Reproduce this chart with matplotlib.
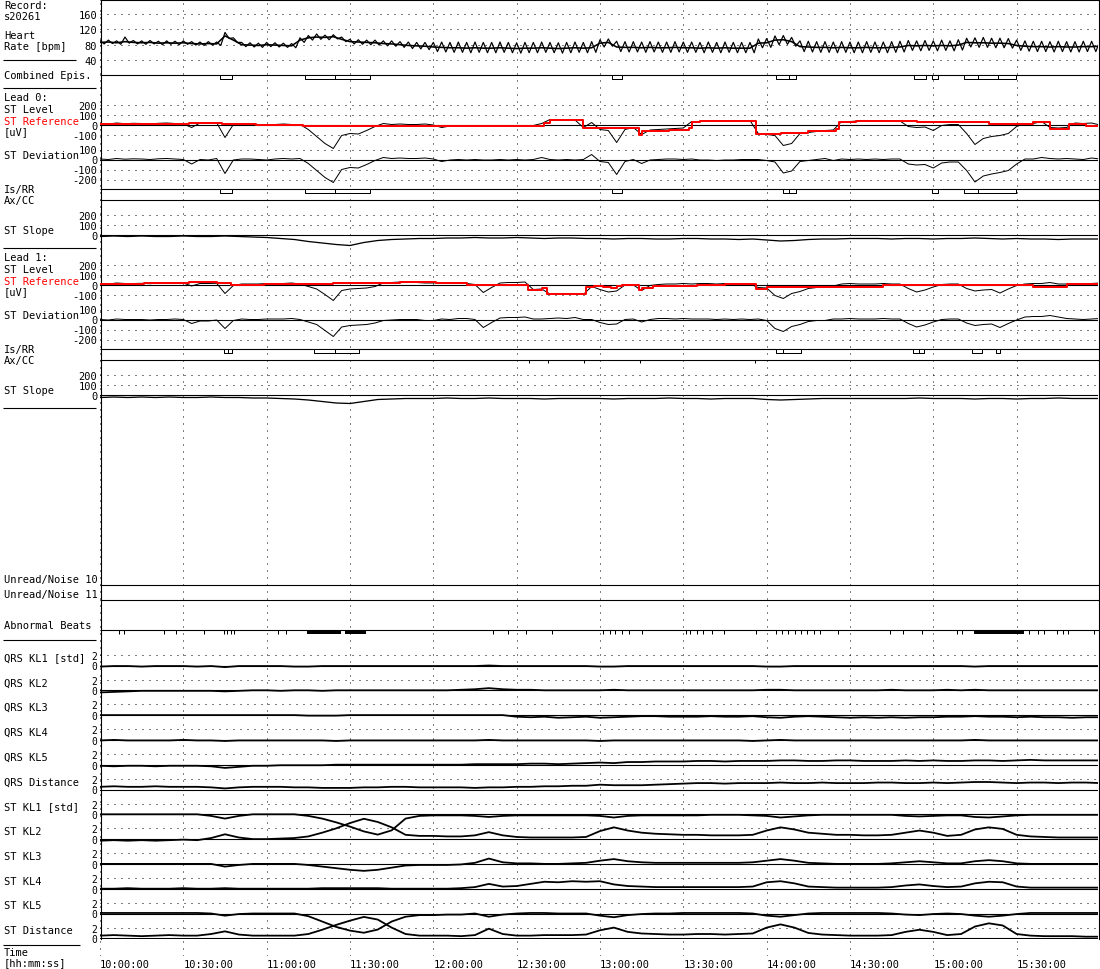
import numpy as np
import matplotlib
matplotlib.use("Agg")
import matplotlib.pyplot as plt

# ---- data (time in minutes after 10:00:00) ----
t3 = np.arange(0, 361, 3)      # 3-minute samples
t5 = np.arange(0, 361, 5)      # 5-minute samples

hr = [86, 87, 85, 88, 86, 85, 86, 84, 85, 84,
      85, 83, 82, 83, 82, 103, 92, 80, 79, 78,
      80, 79, 78, 77, 92, 98, 100, 99, 101, 94,
      88, 87, 86, 85, 83, 82, 80, 78, 77, 76,
      74, 73, 72, 72, 71, 72, 71, 71, 72, 71,
      70, 71, 71, 72, 71, 70, 71, 72, 71, 72,
      84, 86, 74, 73, 73, 72, 73, 72, 72, 73,
      72, 72, 71, 72, 71, 72, 71, 71, 71, 84,
      85, 92, 93, 88, 75, 74, 73, 73, 72, 73,
      72, 72, 73, 72, 72, 73, 74, 78, 77, 78,
      77, 78, 77, 79, 86, 85, 85, 84, 84, 83,
      78, 76, 75, 75, 74, 75, 74, 74, 75, 75,
      76]
hr_hi = [91, 92, 90, 100, 91, 90, 91, 89, 90, 89,
         90, 88, 87, 88, 87, 112, 98, 86, 85, 84,
         86, 85, 84, 83, 98, 104, 108, 105, 106, 100,
         94, 93, 92, 92, 90, 90, 88, 87, 86, 86,
         86, 87, 86, 87, 86, 87, 86, 86, 87, 86,
         85, 86, 86, 87, 86, 85, 86, 87, 86, 88,
         93, 95, 89, 88, 88, 87, 88, 87, 87, 88,
         87, 87, 86, 87, 86, 87, 86, 86, 86, 95,
         96, 103, 104, 99, 90, 89, 88, 88, 87, 88,
         87, 87, 88, 87, 87, 88, 89, 91, 90, 91,
         90, 92, 90, 93, 97, 98, 99, 97, 97, 96,
         92, 90, 89, 89, 88, 89, 88, 88, 89, 89,
         90]
hr_lo = [82, 83, 81, 84, 82, 81, 82, 80, 81, 80,
         81, 79, 78, 79, 78, 96, 86, 75, 74, 73,
         75, 74, 73, 72, 86, 92, 94, 93, 95, 88,
         82, 81, 80, 79, 77, 76, 73, 70, 69, 67,
         62, 61, 60, 60, 59, 60, 59, 59, 60, 59,
         58, 59, 59, 60, 59, 58, 59, 60, 59, 60,
         74, 76, 62, 61, 61, 60, 61, 60, 60, 61,
         60, 60, 59, 60, 59, 60, 59, 59, 59, 72,
         73, 80, 81, 76, 62, 61, 60, 60, 59, 60,
         59, 59, 60, 59, 59, 60, 61, 65, 64, 65,
         64, 65, 64, 66, 74, 73, 73, 72, 72, 71,
         65, 63, 62, 62, 61, 62, 61, 61, 62, 62,
         63]

# episodes (start, end) in minutes
combined_epis = [(43.2, 47.5), (73.8, 84.6), (84.6, 97.2), (184.3, 187.9),
                 (243.4, 248.0), (248.0, 250.6), (293.0, 297.3), (299.5, 301.7),
                 (311.0, 316.1), (316.1, 323.3), (323.3, 329.8)]
lead0_epis = [(43.2, 47.5), (73.8, 84.6), (84.6, 97.2), (184.3, 187.9),
              (245.9, 248.0), (248.0, 250.6), (299.5, 301.7), (311.0, 316.1),
              (316.1, 329.8)]
lead1_epis = [(44.6, 46.1), (46.1, 47.5), (77.0, 84.6), (84.6, 93.2),
              (243.4, 245.9), (245.9, 252.4), (292.7, 294.8), (294.8, 296.6),
              (313.9, 317.5), (322.6, 324.0)]
lead1_axis_shifts = [154.4, 161.3, 174.2, 194.4, 235.8]

# Lead 0 [uV]
st0_level = [10, 5, 15, 8, 12, 10, 5, 12, 15, 10,
             5, -30, 15, 12, 18, -130, 0, 5, 0, -5,
             -10, 0, 5, 0, 0, -50, -120, -190, -240, -110,
             -90, -95, -60, -20, 10, 0, 5, 0, 0, 5,
             -5, -30, -15, -10, -15, -10, -15, -15, -10, -15,
             -10, -15, -10, 10, 50, 45, 50, 45, -30, 20,
             -50, -60, -180, -50, -30, -100, -55, -50, -45, -40,
             -35, 30, 30, 35, 30, 35, 35, 40, 40, -90,
             -100, -110, -210, -190, -90, -80, -70, -60, -55, 30,
             30, 35, 30, 35, 30, 35, 35, -20, -30, -25,
             -60, -10, 0, 0, -90, -200, -140, -120, -110, -90,
             -20, 10, 10, 30, -30, -35, -30, 15, 10, 15,
             -5]
st0_ref_t = [0, 32, 44, 56, 73, 159, 160, 162, 174, 194, 195, 205, 212, 213,
             216, 236, 245, 255, 265, 266, 272, 294, 320, 336, 342, 349, 355, 360]
st0_ref_v = [5, 15, 5, -5, -10, -10, 20, 50, -30, -100, -60, -50, -35, 25,
             40, -90, -80, -65, -45, 25, 33, 25, 5, 30, -40, 10, -10, -10]
st0_dev = [5, 0, 10, 3, 7, 5, 0, 7, 10, 5,
           0, -45, 0, -5, 10, -140, -5, 5, 5, 0,
           -5, 5, 10, 5, 10, -40, -110, -180, -230, -100,
           -80, -85, -50, -10, 20, 10, 15, 10, 10, 15,
           5, -20, -5, 0, -5, 0, -5, -5, 0, -5,
           0, -5, 0, 20, 0, -5, 0, -5, 0, 50,
           -20, -30, -150, -20, 0, -40, -5, 0, 5, 5,
           0, 5, -5, -5, -10, -5, -5, 0, 0, 0,
           -10, -25, -135, -115, -20, -10, 0, 10, -10, 5,
           0, 5, 0, 5, 0, 5, 5, -45, -55, -50,
           -85, -35, -25, -25, -110, -225, -165, -145, -130, -110,
           -45, 5, 5, 20, 10, 5, 10, 5, 0, 15,
           5]
st0_slope = [-20, -15, -20, -15, -20, -20, -15, -20, -20, -15, -20, -25,
             -30, -40, -50, -70, -85, -100, -110, -80, -60, -50, -45, -40,
             -40, -35, -35, -30, -35, -35, -30, -35, -40, -35, -35, -40,
             -40, -45, -40, -40, -45, -45, -40, -40, -45, -45, -50, -45,
             -55, -65, -60, -50, -45, -45, -40, -40, -40, -45, -40, -40,
             -45, -40, -40, -35, -40, -45, -40, -45, -45, -50, -45, -45,
             -45]

# Lead 1 [uV]
st1_level = [10, 5, 15, 10, 10, 12, 8, 15, 15, 20,
             15, -15, 10, 10, 12, -90, -10, 5, 5, 5,
             10, 10, 10, 15, 5, -20, -45, -100, -160, -60,
             -45, -40, -35, -20, 15, 20, 25, 25, 20, 15,
             15, 20, 15, 15, 10, 0, -80, -30, 15, 20,
             20, 25, -50, -45, -95, -90, -95, -90, -100, -20,
             -50, -75, -65, -5, -5, -60, -10, 0, 5, 5,
             10, 5, 10, 10, 5, 10, 5, 10, 5, -30,
             -35, -110, -140, -90, -70, -40, -30, -30, -15, 5,
             10, 5, 5, 5, 10, 5, 5, -40, -75, -55,
             -25, 0, 5, 5, -40, -65, -55, -50, -85, -45,
             -10, 5, 10, 10, 20, 5, 5, 10, 5, 10,
             15]
st1_ref_t = [0, 16, 32, 42, 47, 59, 84, 108, 121, 132, 154, 159, 161, 175, 178,
             181, 184, 186, 188, 194, 195, 199, 215, 225, 236, 240, 282, 312,
             336, 348, 360]
st1_ref_v = [10, 15, 25, 15, 0, 5, 15, 25, 15, 0, -55, -35, -95, -25, -10,
             -20, -30, -15, -5, -50, -30, -10, 0, 5, -40, -20, 0, -5,
             -20, 5, 5]
st1_dev = [0, -5, 5, 0, 0, 0, -5, 0, 0, 5,
           0, -40, -15, -15, -5, -90, -10, 5, 0, 0,
           5, 5, 5, 10, 0, -25, -50, -110, -170, -75,
           -60, -55, -50, -35, -10, -5, 0, 0, 0, -10,
           -10, 5, 0, 10, 10, 0, -80, -30, 15, 20,
           20, 25, 5, 5, 10, 15, 10, 20, 0, 0,
           -30, -50, -45, 0, 5, -25, 0, 10, 10, 5,
           10, 5, 5, 5, 0, 5, 0, 5, 0, 5,
           -10, -90, -120, -70, -50, -20, -10, -10, 5, 5,
           10, 5, 5, 5, 10, 5, 5, -40, -75, -55,
           -25, 0, 5, 5, -35, -60, -50, -45, -80, -40,
           -5, 25, 30, 30, 40, 25, 10, 5, 0, 5,
           10]
st1_slope = [-30, -25, -30, -25, -30, -25, -30, -30, -25, -30, -30, -35,
             -35, -40, -45, -55, -70, -85, -90, -70, -50, -45, -40, -40,
             -40, -35, -40, -40, -35, -40, -40, -40, -45, -40, -40, -40,
             -40, -45, -40, -40, -40, -35, -40, -40, -45, -40, -40, -40,
             -50, -55, -50, -45, -40, -40, -40, -40, -40, -40, -40, -35,
             -40, -40, -40, -45, -40, -40, -45, -40, -40, -35, -40, -40,
             -40]

# abnormal beats: single beats and dense runs (minutes)
abn_beats = [6.9, 8.7, 22.9, 27.5, 37.4, 44.7, 45.9, 47.0, 48.2, 64.2, 67.0,
             141.5, 146.8, 153.2, 162.9, 181.2, 183.5, 185.5, 187.8, 190.3,
             195.0, 211.1, 212.5, 214.8, 217.1, 220.2, 224.8, 236.3, 243.2,
             245.5, 247.8, 250.1, 252.4, 254.7, 256.9, 259.2, 265.6, 284.5,
             289.1, 296.0, 308.6, 310.5, 334.5, 337.6, 340.0, 344.4, 346.6,
             348.5, 357.9]
abn_runs = [(74.6, 86.7), (88.3, 95.9), (314.6, 332.6)]

# KL coefficients [std], 5-minute samples
qrs_kl1 = [-0.2, -0.1, -0.1, -0.2, -0.1, -0.1, -0.1, -0.2, -0.1, -0.3, -0.1, -0.1,
           -0.1, -0.1, -0.2, -0.2, -0.1, -0.1, -0.1, -0.1, -0.1, -0.1, -0.1, -0.1,
           -0.1, -0.1, -0.1, -0.1, 0.0, -0.1, -0.1, -0.1, -0.1, -0.1, -0.1, -0.1,
           -0.2, -0.2, -0.1, -0.1, -0.1, -0.1, -0.1, -0.1, -0.1, -0.1, -0.1, -0.1,
           -0.2, -0.2, -0.1, -0.1, -0.1, -0.1, -0.1, -0.1, -0.1, -0.1, -0.1, -0.1,
           -0.1, -0.1, -0.1, -0.2, -0.1, -0.1, -0.1, -0.1, -0.1, -0.1, -0.1, -0.1,
           -0.1]
qrs_kl2 = [-0.4, -0.3, -0.2, -0.1, -0.1, -0.1, -0.1, -0.1, -0.1, -0.2, -0.1, 0.0,
           0.0, -0.1, 0.0, 0.0, -0.1, 0.0, 0.0, 0.0, 0.0, 0.0, 0.0, 0.0,
           0.0, 0.0, 0.1, 0.2, 0.4, 0.2, 0.1, 0.1, 0.0, 0.0, 0.0, 0.0,
           0.0, 0.1, 0.0, 0.0, 0.0, 0.0, 0.0, 0.0, 0.0, 0.0, 0.0, 0.0,
           0.1, 0.1, 0.0, 0.0, 0.0, 0.0, 0.0, 0.0, 0.0, 0.1, 0.0, 0.0,
           0.0, 0.1, 0.0, 0.1, 0.0, 0.0, 0.0, 0.0, 0.0, 0.0, 0.0, 0.0,
           0.0]
qrs_kl3 = [0.0, 0.0, 0.0, 0.0, 0.0, 0.0, 0.0, 0.0, 0.0, 0.0, 0.0, 0.0,
           0.0, 0.0, 0.0, -0.1, -0.1, -0.1, 0.0, 0.0, 0.0, 0.0, 0.0, 0.0,
           0.0, 0.0, 0.0, 0.0, 0.0, 0.0, -0.3, -0.4, -0.3, -0.5, -0.4, -0.3,
           -0.5, -0.4, -0.3, -0.2, -0.2, -0.3, -0.3, -0.3, -0.2, -0.3, -0.3, -0.2,
           -0.4, -0.5, -0.3, -0.2, -0.3, -0.4, -0.5, -0.4, -0.5, -0.4, -0.5, -0.4,
           -0.4, -0.3, -0.3, -0.2, -0.3, -0.3, -0.4, -0.3, -0.4, -0.4, -0.5, -0.4,
           -0.4]
qrs_kl4 = [-0.1, 0.0, -0.1, -0.1, -0.1, -0.1, 0.0, -0.1, -0.1, -0.2, -0.1, -0.1,
           -0.1, -0.1, -0.1, -0.1, -0.1, -0.2, -0.1, -0.1, -0.1, -0.1, -0.1, -0.1,
           -0.1, -0.1, -0.1, -0.1, 0.0, -0.1, -0.1, -0.1, -0.1, -0.1, -0.1, -0.1,
           -0.2, -0.1, -0.1, -0.1, -0.1, -0.1, -0.1, -0.1, -0.1, -0.1, -0.1, -0.2,
           -0.1, 0.0, -0.1, -0.1, -0.1, -0.1, -0.1, -0.1, -0.1, -0.1, -0.1, -0.1,
           -0.1, -0.1, -0.1, 0.0, -0.1, -0.1, -0.1, -0.1, -0.1, -0.1, -0.1, -0.1,
           -0.1]
qrs_kl5 = [-0.2, -0.3, -0.2, -0.2, -0.3, -0.2, -0.2, -0.2, -0.3, -0.6, -0.4, -0.2,
           -0.2, -0.1, -0.1, -0.1, -0.1, 0.0, 0.0, 0.0, 0.0, 0.0, 0.0, 0.0,
           0.0, 0.0, 0.0, 0.1, 0.1, 0.1, 0.1, 0.2, 0.2, 0.1, 0.2, 0.3,
           0.4, 0.3, 0.5, 0.5, 0.6, 0.6, 0.6, 0.7, 0.7, 0.6, 0.7, 0.7,
           0.7, 0.8, 0.8, 0.7, 0.7, 0.8, 0.8, 0.7, 0.7, 0.7, 0.8, 0.7,
           0.8, 0.7, 0.7, 0.8, 0.8, 0.7, 0.8, 0.9, 0.8, 0.8, 0.8, 0.8,
           0.8]
qrs_dist = [0.5, 0.6, 0.5, 0.5, 0.6, 0.5, 0.5, 0.5, 0.4, 0.2, 0.4, 0.5,
            0.5, 0.5, 0.4, 0.4, 0.3, 0.3, 0.3, 0.4, 0.4, 0.5, 0.5, 0.4,
            0.4, 0.4, 0.4, 0.3, 0.4, 0.4, 0.5, 0.5, 0.6, 0.6, 0.7, 0.7,
            0.9, 0.8, 0.8, 0.8, 0.9, 1.0, 1.1, 1.2, 1.2, 1.1, 1.2, 1.2,
            1.2, 1.3, 1.2, 1.2, 1.3, 1.2, 1.2, 1.2, 1.3, 1.3, 1.2, 1.2,
            1.3, 1.2, 1.3, 1.4, 1.4, 1.3, 1.2, 1.3, 1.3, 1.2, 1.3, 1.3,
            1.2]
st_kl1 = [0.0, 0.0, 0.0, 0.0, 0.0, 0.0, 0.0, 0.0, -0.3, -0.8, -0.3, 0.0,
          0.0, 0.0, 0.0, -0.3, -0.8, -1.5, -2.3, -3.2, -3.8, -3.0, -0.8, -0.3,
          -0.2, -0.2, -0.2, -0.3, -0.5, -0.3, -0.2, -0.2, -0.2, -0.2, -0.2, -0.2,
          -0.3, -0.6, -0.3, -0.2, -0.2, -0.2, -0.2, -0.2, -0.1, -0.1, -0.1, -0.2,
          -0.3, -0.6, -0.4, -0.2, -0.1, -0.1, -0.1, -0.1, -0.1, -0.1, -0.3, -0.4,
          -0.3, -0.2, -0.2, -0.5, -0.6, -0.4, -0.2, -0.1, -0.1, -0.1, -0.1, -0.1,
          -0.1]
st_kl2 = [-0.3, -0.2, -0.3, -0.2, -0.3, -0.2, -0.1, -0.2, 0.2, 0.9, 0.3, 0.0,
          0.0, 0.1, 0.2, 0.5, 1.2, 2.0, 3.0, 3.8, 3.2, 2.2, 0.8, 0.6,
          0.6, 0.5, 0.5, 0.7, 1.3, 0.7, 0.4, 0.3, 0.3, 0.3, 0.3, 0.4,
          1.5, 2.2, 1.6, 1.2, 1.0, 0.9, 0.8, 0.8, 0.7, 0.7, 0.7, 0.8,
          1.6, 2.2, 1.8, 1.2, 1.0, 0.8, 0.8, 0.7, 0.7, 0.8, 1.2, 1.6,
          1.2, 0.6, 0.8, 1.8, 2.2, 1.9, 0.8, 0.5, 0.4, 0.3, 0.3, 0.3,
          0.3]
st_kl3 = [0.0, 0.0, 0.0, 0.0, 0.0, 0.0, 0.0, 0.0, 0.0, -0.5, -0.2, 0.0,
          0.0, 0.0, 0.0, -0.2, -0.5, -0.8, -1.1, -1.3, -1.1, -0.7, -0.3, -0.2,
          -0.2, -0.2, -0.1, 0.2, 1.0, 0.3, 0.1, 0.1, 0.0, 0.0, 0.1, 0.2,
          0.6, 0.9, 0.5, 0.3, 0.2, 0.2, 0.2, 0.2, 0.2, 0.2, 0.2, 0.3,
          0.6, 0.9, 0.6, 0.2, 0.1, 0.0, 0.0, 0.0, 0.0, 0.1, 0.3, 0.5,
          0.3, 0.1, 0.1, 0.5, 0.7, 0.5, 0.1, 0.0, 0.0, 0.0, 0.0, 0.0,
          0.0]
st_kl4 = [0.0, 0.0, 0.1, 0.0, 0.0, 0.0, 0.1, 0.0, 0.0, 0.1, 0.0, 0.0,
          0.0, 0.0, 0.0, 0.0, 0.1, 0.1, 0.1, 0.1, 0.1, 0.0, 0.0, 0.0,
          0.0, 0.0, 0.1, 0.3, 0.9, 0.4, 0.5, 0.9, 1.3, 1.2, 1.4, 1.3,
          1.4, 0.8, 0.5, 0.4, 0.3, 0.3, 0.3, 0.3, 0.3, 0.3, 0.3, 0.4,
          1.2, 1.4, 1.0, 0.4, 0.3, 0.2, 0.2, 0.2, 0.2, 0.3, 0.6, 0.8,
          0.5, 0.3, 0.4, 1.0, 1.3, 1.2, 0.4, 0.2, 0.2, 0.2, 0.2, 0.2,
          0.2]
st_kl5 = [0.1, 0.1, 0.1, 0.1, 0.1, 0.1, 0.1, 0.1, 0.0, -0.4, -0.1, 0.0,
          0.0, 0.0, 0.0, -0.5, -1.5, -2.5, -3.2, -3.6, -3.0, -1.5, -0.6, -0.3,
          -0.3, -0.2, -0.2, 0.0, -0.6, -0.2, 0.0, 0.1, 0.1, 0.0, 0.0, 0.0,
          -0.4, -0.7, -0.3, -0.1, 0.0, 0.0, 0.1, 0.1, 0.1, 0.1, 0.1, 0.0,
          -0.4, -0.6, -0.3, 0.0, 0.1, 0.1, 0.1, 0.1, 0.1, 0.0, -0.2, -0.3,
          -0.1, 0.0, -0.1, -0.4, -0.6, -0.4, -0.1, 0.1, 0.1, 0.1, 0.1, 0.1,
          0.1]
st_dist = [0.5, 0.6, 0.5, 0.4, 0.5, 0.6, 0.5, 0.5, 0.8, 1.3, 0.7, 0.5,
           0.5, 0.5, 0.5, 0.8, 1.6, 2.5, 3.3, 4.0, 3.5, 2.0, 0.8, 0.5,
           0.5, 0.5, 0.4, 0.6, 1.8, 0.8, 0.5, 0.5, 0.6, 0.6, 0.6, 0.7,
           1.5, 2.0, 1.2, 0.9, 0.8, 0.7, 0.7, 0.8, 0.8, 0.7, 0.8, 0.9,
           2.0, 2.6, 2.0, 1.0, 0.7, 0.6, 0.5, 0.5, 0.5, 0.6, 1.2, 1.6,
           1.2, 0.6, 0.8, 2.2, 2.8, 2.4, 0.8, 0.5, 0.4, 0.4, 0.4, 0.3,
           0.3]

kl_names = ["QRS KL1 [std]", "QRS KL2", "QRS KL3", "QRS KL4", "QRS KL5",
            "QRS Distance", "ST KL1 [std]", "ST KL2", "ST KL3", "ST KL4",
            "ST KL5", "ST Distance"]
kl_series = [qrs_kl1, qrs_kl2, qrs_kl3, qrs_kl4, qrs_kl5, qrs_dist,
             st_kl1, st_kl2, st_kl3, st_kl4, st_kl5, st_dist]

time_ticks = list(range(0, 360, 30))
time_labels = ["%d:%02d:00" % (10 + m // 60, m % 60) for m in time_ticks]

# ---- layout (pixels of a 1100 x 970 image) ----
W, H = 1100, 970
X0, X1 = 100, 1098
Y_END = 940
T_END = (X1 - X0) * 30 / 83.33
DOT = (0, (1, 6))
PX = 0.72  # one pixel in points
FS = 7.5

plt.rcParams['font.family'] = ['DejaVu Sans Mono']
plt.rcParams['font.size'] = FS
plt.rcParams['axes.unicode_minus'] = False

fig = plt.figure(figsize=(11, 9.7), dpi=100)

# overlay in pixel coordinates for labels and frame lines
over = fig.add_axes([0, 0, 1, 1])
over.set_xlim(0, W)
over.set_ylim(H, 0)
over.axis('off')


def track(ref_val, ref_px, ppu, ticks=(), zero=True, fs=FS):
    """Transparent axes over the plot area: ref_val sits at pixel row ref_px,
    ppu pixels per data unit."""
    ax = fig.add_axes([X0 / W, 1 - Y_END / H, (X1 - X0) / W, Y_END / H])
    ax.set_xlim(0, T_END)
    ax.set_ylim(ref_val - (Y_END - ref_px) / ppu, ref_val + ref_px / ppu)
    ax.set_facecolor('none')
    for s in ax.spines.values():
        s.set_visible(False)
    ax.set_xticks([])
    ax.set_yticks(list(ticks))
    ax.tick_params(axis='y', length=0, pad=2, labelsize=fs)
    for v in ticks:
        if v == 0 and zero:
            continue
        ax.axhline(v, color='black', lw=PX, ls=DOT)
    if zero:
        ax.axhline(0, color='black', lw=1.1 * PX)
    return ax


# vertical time grid + time labels
gax = fig.add_axes([X0 / W, 1 - 957 / H, (X1 - X0) / W, 957 / H])
gax.set_xlim(0, T_END)
gax.set_ylim(0, 1)
gax.set_facecolor('none')
for s in gax.spines.values():
    s.set_visible(False)
gax.set_yticks([])
for m in time_ticks:
    gax.axvline(m, color='black', lw=PX, ls=DOT)
gax.set_xticks(time_ticks)
gax.set_xticklabels(time_labels)
for lbl in gax.get_xticklabels():
    lbl.set_ha('left')
gax.tick_params(axis='x', length=0, pad=2.5)

# heart rate: beat-to-beat swing drawn as a saw between high and low readings
ax_hr = track(80, 45.7, 15.33 / 40, ticks=[40, 80, 120, 160], zero=False)
saw_t = np.column_stack([t3, t3 + 1.5]).ravel()
saw_v = np.column_stack([hr_hi, hr_lo]).ravel()
ax_hr.plot(saw_t, saw_v, color='black', lw=1.2 * PX)
ax_hr.plot(t3, hr, color='black', lw=1.6 * PX)


def episodes(base_px, spans):
    ax = track(0, base_px, 1.0, zero=False)
    ax.broken_barh([(a, b - a) for a, b in spans], (-4, 4),
                   facecolor='white', edgecolor='black', lw=PX)
    return ax


episodes(75.5, combined_epis)
episodes(189.5, lead0_epis)
episodes(349.5, lead1_epis)


def lead(level_px, dev_px, slope_px, level, ref_t, ref_v, dev, slope):
    a = track(0, level_px, 0.1, ticks=[200, 100, 0, -100])
    a.plot(t3, level, color='black', lw=PX)
    a.plot(ref_t, ref_v, color='red', lw=2 * PX, drawstyle='steps-post')
    b = track(0, dev_px, 0.1, ticks=[100, 0, -100, -200])
    b.plot(t3, dev, color='black', lw=PX)
    c = track(0, slope_px, 0.1, ticks=[200, 100, 0])
    c.plot(t5, slope, color='black', lw=1.3 * PX)
    return c


lead(125.5, 160.5, 235.5, st0_level, st0_ref_t, st0_ref_v, st0_dev, st0_slope)
lead(285.5, 320.5, 395.5, st1_level, st1_ref_t, st1_ref_v, st1_dev, st1_slope)

# lead 1 axis shift marks
ax_sh = track(0, 360.5, 1.0, zero=False)
ax_sh.vlines(lead1_axis_shifts, -3, 0, color='black', lw=PX)

# abnormal beats
ax_ab = track(0, 630.5, 1.0, zero=False)
ax_ab.vlines(abn_beats, -4, 0, color='black', lw=PX)
ax_ab.broken_barh([(a, b - a) for a, b in abn_runs], (-4, 4),
                  facecolor='black', edgecolor='none')

# KL tracks
kl_zero = [666.5 + 24.8 * k for k in range(len(kl_series))]
for z, vals in zip(kl_zero, kl_series):
    a = track(0, z, 10.7 / 2, ticks=[2, 0], fs=7)
    a.plot(t5, vals, color='black', lw=1.8 * PX)


# frame and separator lines (pixels)
def hline(y, x0=X0, x1=X1 + 0.5, lw=1.1):
    over.plot([x0, x1], [y, y], color='black', lw=lw * PX, solid_capstyle='butt')


hline(0.5)
for y in [75.5, 189.5, 200.5, 349.5, 360.5, 585.5, 600.5, 630.5]:
    hline(y)
over.plot([X0 + 0.5, X0 + 0.5], [0, Y_END], color='black', lw=1.1 * PX)
over.plot([X1 + 0.5, X1 + 0.5], [0, Y_END], color='black', lw=1.1 * PX)
for y, x1 in [(60.5, 76), (88.5, 96), (248.5, 96), (408.5, 96), (640.5, 96), (945.5, 80)]:
    hline(y, 3, x1)

labels = [
    ("Record:", 6), ("s20261", 16.5), ("Heart", 36), ("Rate [bpm]", 46.5),
    ("Combined Epis.", 76),
    ("Lead 0:", 98), ("ST Level", 110), ("[uV]", 132.5), ("ST Deviation", 156),
    ("Is/RR", 190), ("Ax/CC", 201), ("ST Slope", 231),
    ("Lead 1:", 258), ("ST Level", 270.5), ("[uV]", 292.5), ("ST Deviation", 316),
    ("Is/RR", 350), ("Ax/CC", 361), ("ST Slope", 391),
    ("Unread/Noise 10", 580), ("Unread/Noise 11", 595), ("Abnormal Beats", 626),
    ("Time", 953), ("[hh:mm:ss]", 963),
]
for s, y in labels:
    over.text(4, y, s, ha='left', va='center')
for y in (122, 282):
    over.text(4, y, "ST Reference", ha='left', va='center', color='red')
for s, z in zip(kl_names, kl_zero):
    over.text(4, z - 8, s, ha='left', va='center')

fig.savefig("out.png", dpi=100)
